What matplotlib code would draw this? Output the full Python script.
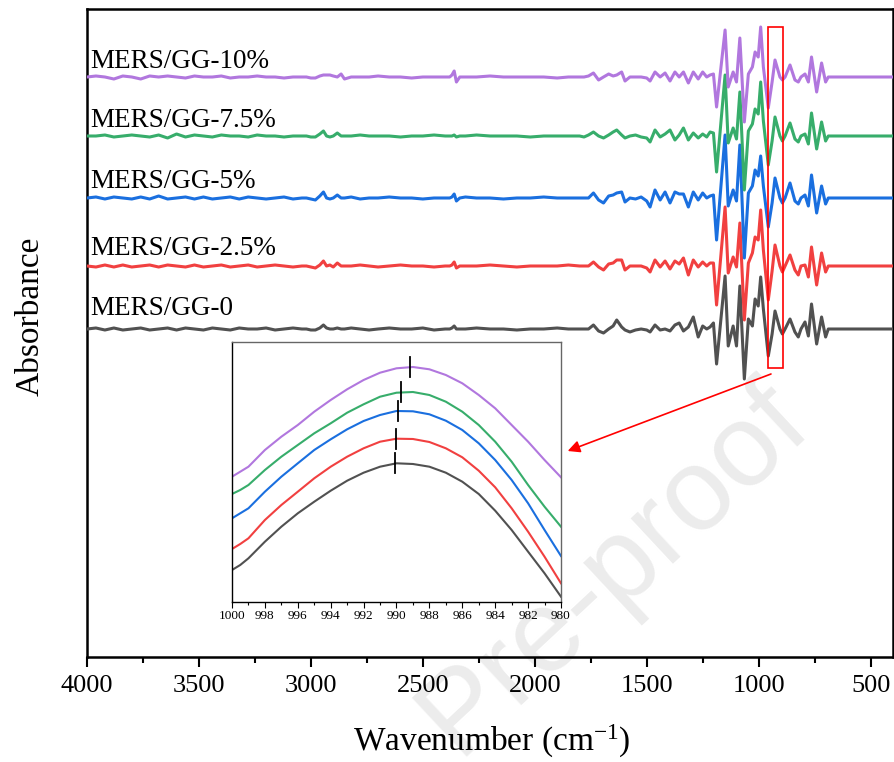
import matplotlib
matplotlib.use("Agg")
import matplotlib.pyplot as plt
from matplotlib.patches import Rectangle

plt.rcParams['font.family'] = ['Liberation Serif', 'DejaVu Serif']
plt.rcParams['mathtext.fontset'] = 'custom'
plt.rcParams['mathtext.rm'] = 'Liberation Serif'
plt.rcParams['mathtext.it'] = 'Liberation Serif:italic'

# ---------------- data ----------------
labels = ["MERS/GG-0", "MERS/GG-2.5%", "MERS/GG-5%", "MERS/GG-7.5%", "MERS/GG-10%"]
colors = ["#515151", "#F14040", "#1A6FDF", "#37AD6B", "#B177DE"]

# wavenumber grid (cm-1), high to low
wavenumber = [
    4000, 3960, 3920, 3880, 3840, 3800, 3760, 3720, 3680, 3640, 3600, 3560, 3520,
    3480, 3440, 3400, 3360, 3320, 3280, 3240, 3200, 3160, 3120, 3080, 3040,
    3020, 3000, 2980, 2960, 2944, 2930, 2915, 2900, 2882, 2865, 2850, 2820, 2780,
    2740, 2700, 2650, 2600, 2550, 2500, 2450, 2400, 2380, 2370, 2360, 2350, 2335,
    2310, 2260, 2200, 2140, 2080, 2020, 1960, 1900, 1850, 1800,
    1780, 1760, 1738, 1715, 1693, 1670, 1650, 1634, 1612, 1597, 1575, 1550, 1525,
    1500, 1485, 1463, 1440, 1418, 1396, 1374, 1355, 1336, 1314, 1292, 1270, 1250,
    1232, 1217, 1202,
    1188, 1150, 1136, 1114, 1099, 1084, 1064, 1046, 1028, 1016, 1002, 991, 979,
    957, 940, 927, 905, 894, 882, 860, 838, 823, 811, 793, 778, 764, 741, 719,
    701, 689, 675, 400,
]

# absorbance signal of each sample (arbitrary units)
gg_0 = [
    0, 1, -1, 1, -1, 0, 1, -1, 0, 1, -1, 1, 0, -1, 1, 0, -1, 1, 0, 0, 1, -1, 0, 1, 0,
    0, -1, -1, 1, 4, 1, 0, 0, 1, 0, 0, 1, 0, -1, 0, 1, 0, 0, 1, -1, 0, 0, 1, 3, 0,
    0, 0, 1, 0, 0, -1, 0, 0, 1, 0, 0,
    0, 0, 4, -2, -4, 0, 3, 9, 2, -1, -3, -1, 0, -1, -3, 4, -1, 0, -2, 4, 6, -2, 2,
    12, -8, 3, 0, 2, 6,
    -35, 53, -17, 3, -17, 43, -50, 10, 3, 30, 23, 52, 20, -27, -5, 18, 0, -5, 0,
    10, -3, -8, 0, 7, -7, 25, -15, 12, -8, 0, 0, 0,
]
gg_25 = [
    0, -1, 1, -1, 1, -1, 0, 1, -1, 1, 0, -1, 1, -1, 0, 1, -1, 0, 1, -1, 0, 1, 0, -1, 0,
    0, -1, -2, 1, 5, 0, 1, -1, 3, 0, 0, 0, 1, 0, -1, 0, 1, 0, 0, -1, 0, 0, 1, 4, -2,
    0, 0, 0, 1, 0, -1, 0, 0, 0, 1, 0,
    0, 0, 4, -1, -4, 2, 3, 6, 6, -4, 0, 0, 0, -2, -6, 6, -1, 5, -3, 5, 2, 8, -9,
    6, -1, 4, 0, 3, 3,
    -39, 59, -7, 9, -1, 43, -54, 3, 13, 29, 26, 56, 16, -34, -5, 21, 0, -6, 0,
    11, -4, -9, 0, 1, -11, 19, -19, 13, -6, 0, 0, 0,
]
gg_5 = [
    0, 1, -1, 1, 0, -1, 1, -1, 2, -1, 0, 1, -1, 1, -1, 0, 1, -1, 1, 0, -1, 0, 1, -1, 0,
    0, -1, -2, 2, 6, 0, -1, 0, 3, 0, 0, 1, -1, 0, 0, 1, 0, 0, -1, 0, 0, 0, 1, 4, -3,
    0, 1, 0, 0, -1, 0, 0, 1, 0, 0, 0,
    0, 0, 5, -2, -5, 2, 3, 5, 6, -4, 0, -1, 1, -3, -9, 8, -2, 6, -5, 6, 4, 4, -9,
    6, -2, 5, 0, 2, 3,
    -42, 63, -8, 8, -3, 53, -60, 5, 12, 28, 22, 42, 12, -29, -5, 20, 0, -5, 0,
    15, -3, -6, 0, 3, -8, 23, -15, 12, -6, 0, 0, 0,
]
gg_75 = [
    0, 0, 1, -1, 0, 1, 0, -1, 1, -2, 2, -1, 1, 0, -1, 1, 0, 0, -1, 1, 0, 0, -1, 0, 0,
    0, -1, -1, 2, 5, 0, -1, 0, 3, 0, 0, 0, 1, 0, 0, 0, -1, 0, 0, 1, 0, 0, 0, 1, -1,
    0, 0, 1, 0, 0, 0, -1, 0, 0, 0, 0,
    -1, 1, 4, 0, -2, 1, 4, 6, 1, -2, 0, 1, -1, -2, -6, 6, -1, 2, 6, -4, 1, 8, -4,
    3, -2, 2, -1, 4, 3,
    -36, 61, -7, 8, -3, 44, -54, 5, 12, 27, 22, 54, 15, -29, -5, 19, 0, -5, 0,
    13, -3, -6, 0, 2, -8, 23, -13, 14, -5, 0, 0, 0,
]
gg_10 = [
    0, 1, 0, -2, 1, 0, -2, 1, 0, 1, 0, -1, 1, 0, 0, 1, -1, 0, 0, 1, 0, 0, -1, 0, 0,
    0, -1, -1, 1, 2, 2, 2, 1, 0, 3, -2, 0, 0, 0, 1, 0, 0, -1, 0, 0, 0, 0, 2, 6, -5,
    0, 0, 0, 1, 0, 0, 0, 0, -1, 0, 0,
    0, 1, 4, -3, 0, 3, 1, 2, 5, -4, 0, 0, 0, -1, -4, 5, 0, 4, -4, 5, 0, 5, -6,
    5, -2, 5, 0, 2, 3,
    -30, 47, -10, 5, -5, 39, -45, 3, 10, 25, 20, 50, 10, -31, -5, 17, 0, -3, 0,
    12, -3, -5, 0, 3, -5, 20, -15, 14, -5, 0, 0, 0,
]
series = [gg_0, gg_25, gg_5, gg_75, gg_10]
offsets = [328, 391, 459, 521, 580]
label_heights = [342, 402, 469, 530, 589]

# enlarged view of the band near 990 cm-1
zoom_wn = [1000, 999.5, 999, 998, 997, 996, 995, 994, 993, 992, 991, 990,
           989, 988, 987, 986, 985, 984, 983, 982, 981, 980]
zoom_0 = [32.0, 37.0, 43.7, 60.3, 75.3, 88.7, 100.3, 111.3, 121.3, 129.3, 135.3,
          138.7, 138.0, 135.3, 129.3, 120.3, 108.0, 91.3, 72.0, 50.3, 28.7, 5.3]
zoom_25 = [53.0, 58.0, 63.7, 82.0, 97.0, 110.3, 123.7, 135.3, 145.3, 153.7, 160.3,
           163.3, 163.0, 160.0, 153.7, 144.7, 131.3, 114.7, 93.7, 70.3, 45.3, 18.7]
zoom_5 = [83.7, 88.7, 93.7, 110.3, 125.3, 138.7, 152.0, 162.7, 172.7, 181.0, 187.0,
          191.0, 190.7, 187.7, 181.3, 172.0, 158.7, 142.0, 122.0, 98.7, 72.0, 46.0]
zoom_75 = [108.0, 112.0, 117.0, 132.0, 145.3, 157.0, 168.7, 178.7, 189.3, 197.7, 205.3,
           209.3, 210.0, 207.0, 200.3, 190.3, 177.0, 160.3, 140.3, 117.0, 95.3, 75.3]
zoom_10 = [125.3, 130.3, 135.3, 152.0, 165.3, 177.0, 190.3, 202.0, 212.7, 222.0, 229.3,
           233.7, 235.0, 232.7, 227.0, 218.7, 207.0, 193.7, 177.0, 160.3, 142.0, 124.7]
zoom_series = [zoom_0, zoom_25, zoom_5, zoom_75, zoom_10]
peak_positions = [990.1, 990.0, 989.9, 989.7, 989.2]
peak_heights = [138.7, 163.4, 191.0, 210.0, 235.3]

# ---------------- figure ----------------
W, H = 894, 762
fig = plt.figure(figsize=(W / 100, H / 100), dpi=100)

fig.text(812 / W, 1 - 425 / H, "Pre-proof", rotation=43,
         rotation_mode="anchor", ha="right", va="baseline", fontsize=84,
         color="#ececec", family="Liberation Sans", zorder=-1)

ax = fig.add_axes([87 / W, 1 - 657 / H, (893 - 87) / W, (657 - 9) / H])
ax.patch.set_alpha(0)
for vals, off, col in zip(series, offsets, colors):
    ax.plot(wavenumber, [v + off for v in vals], color=col, lw=2.2,
            solid_joinstyle="round", zorder=3)
for lab, yb in zip(labels, label_heights):
    ax.text(3985, yb, lab, fontsize=19.5, ha="left", va="baseline")

ax.set_xlim(4000, 400)
ax.set_ylim(0, 648)
ax.set_xticks([4000, 3500, 3000, 2500, 2000, 1500, 1000, 500])
ax.set_xticks([3750, 3250, 2750, 2250, 1750, 1250, 750], minor=True)
ax.set_yticks([])
ax.tick_params(axis="x", which="major", direction="out", length=7, width=1.5,
               labelsize=19, pad=6)
ax.tick_params(axis="x", which="minor", direction="out", length=4, width=1.5)
for sp in ax.spines.values():
    sp.set_linewidth(1.8)

ax.add_patch(Rectangle((890, 289), 70, 341, fill=False, edgecolor="red",
                       lw=1.2, zorder=6))
ax.annotate("", xy=(1853, 206), xytext=(945, 283),
            arrowprops=dict(arrowstyle="-|>", color="red", lw=1.2,
                            mutation_scale=18, shrinkA=0, shrinkB=0),
            annotation_clip=False, zorder=6)

fig.text(39 / W, 1 - 316 / H, "Absorbance", rotation=90, rotation_mode="anchor",
         ha="center", va="baseline", fontsize=24)
fig.text(492 / W, 1 - 751 / H, "Wavenumber (cm$^{-1}$)", ha="center",
         va="baseline", fontsize=24)

# inset
ins = fig.add_axes([232 / W, 1 - 602 / H, 329 / W, 260 / H])
ins.set_facecolor("white")
for vals, col in zip(zoom_series, colors):
    ins.plot(zoom_wn, vals, color=col, lw=1.5)
for xp, yp in zip(peak_positions, peak_heights):
    ins.plot([xp, xp], [yp - 10, yp + 10], color="black", lw=1.3)
ins.set_xlim(1000, 980)
ins.set_ylim(0, 260)
ins.set_xticks([1000, 998, 996, 994, 992, 990, 988, 986, 984, 982, 980])
ins.set_xticks([999, 997, 995, 993, 991, 989, 987, 985, 983, 981], minor=True)
ins.set_yticks([])
ins.tick_params(axis="x", which="major", direction="out", length=4, width=0.8,
                labelsize=9.5, pad=2)
ins.tick_params(axis="x", which="minor", direction="out", length=2.5, width=0.8)
for name, sp in ins.spines.items():
    sp.set_linewidth(1.0)
    sp.set_color("black" if name in ("left", "bottom") else "#666666")

fig.savefig("out.png", dpi=100)
